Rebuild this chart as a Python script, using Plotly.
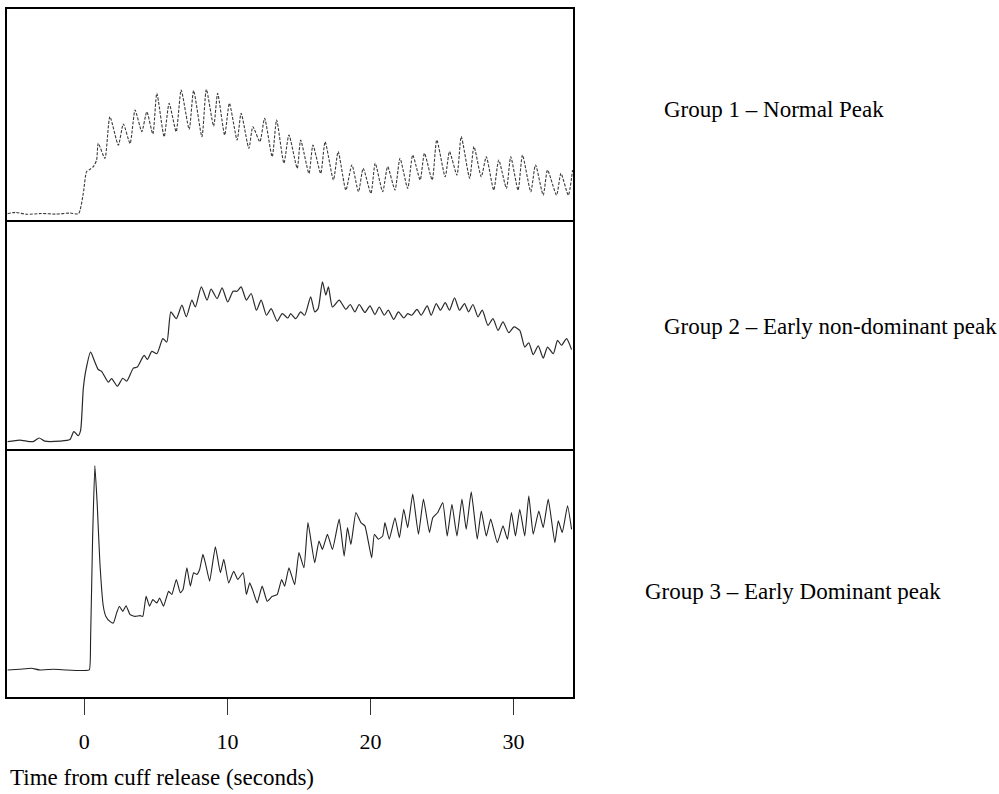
import plotly.graph_objects as go

# Time (s) and signal (arbitrary units, 0-100 of panel height)
g1_t = [-5.36, -4.8, -4.0, -3.0, -2.0, -1.0, -0.4, -0.07, 0.16, 0.39, 0.63, 0.86,
        0.98, 1.44, 1.79, 2.38, 2.73, 3.2, 3.55, 4.02, 4.37, 4.79,
        5.07, 5.58, 5.93, 6.42, 6.77, 7.33, 7.64, 8.22, 8.53, 9.04,
        9.32, 9.81, 10.14, 10.68, 10.96, 11.5, 11.78, 12.27, 12.6, 13.13,
        13.44, 13.95, 14.3, 14.88,
        15.12, 15.7, 15.98, 16.52, 16.83, 17.41, 17.74, 18.28, 18.7, 19.16,
        19.49, 20.03, 20.33, 20.85, 21.2, 21.71, 22.06, 22.6, 22.95, 23.47,
        23.77, 24.31, 24.63, 25.22, 25.52, 26.04, 26.34, 26.93, 27.23, 27.74,
        28.09, 28.61, 28.96, 29.5, 29.8, 30.31, 30.62, 31.2, 31.53, 32.07,
        32.37, 33.0, 33.31, 33.82, 34.12]
g1_v = [3.0, 3.6, 2.7, 3.1, 2.8, 3.3, 3.0, 12.6, 22.9, 24, 25.3, 28.4,
        36.3, 29.2, 49, 35.5, 45.5, 36.3, 52.1, 41.9, 51.3, 40.8,
        60, 39.5, 55.3, 41.9, 61.6, 43, 61.3, 39.5, 61.9, 44.5,
        60, 40.3, 55.3, 37.9, 50.6, 34, 44.2, 37.1, 48.2, 30,
        47.4, 26.9, 40.3, 24.5,
        37.9, 22.1, 35.5, 22.1, 37.1, 19, 32.4, 14.2, 26.1, 13.4,
        24.5, 12.6, 26.9, 13.4, 25.3, 14.2, 29.2, 15, 30.8, 19,
        31.6, 19, 37.9, 20.5, 32.4, 21.3, 39.5, 19.7, 34.8, 20.5,
        30, 14.2, 28.4, 15, 30, 14.2, 30.8, 13.4, 26.1, 11.8,
        23.7, 11.8, 22.1, 11.8, 23.7]

g2_t = [-5.36, -4.52, -3.58, -3.16, -2.76, -1.71, -1.01, -0.73, -0.43, -0.26,
        -0.07, 0.11, 0.44, 0.74, 0.98, 1.21, 1.68, 1.91, 2.31, 2.69,
        2.96, 3.43, 3.71, 4.18, 4.41, 4.72, 5.07, 5.49, 5.77, 6.05,
        6.43, 6.82, 7.13, 7.52, 7.76, 8.18, 8.58, 8.86, 9.28, 9.63,
        10.02, 10.4, 10.68, 10.96, 11.33, 11.66, 12.03, 12.36, 12.73, 13.06,
        13.48, 13.83, 14.23, 14.42, 14.77, 15.12, 15.4, 15.82, 16.1, 16.34,
        16.64, 16.88, 17.06, 17.34, 17.81, 18.28, 18.58, 18.91, 19.21, 19.61,
        19.96, 20.31, 20.61, 20.96, 21.24, 21.62, 21.95, 22.32, 22.6, 22.88,
        23.25, 23.54, 23.96, 24.24, 24.59, 24.89, 25.22, 25.52, 25.87, 26.22,
        26.57, 26.85, 27.16, 27.51, 27.81, 28.21, 28.56, 28.91, 29.26, 29.66,
        30.03, 30.43, 30.78, 31.06, 31.37, 31.72, 32.07, 32.37, 32.77, 33.07,
        33.35, 33.7, 34.05]
g2_v = [3.2, 3.9, 3.2, 4.8, 3.4, 3.4, 4.1, 7.6, 5.8, 8,
        26.3, 34.3, 42.3, 38, 34.7, 33.9, 29.2, 30.7, 27.4, 30.9,
        29.6, 35.3, 35.8, 40.9, 39.1, 42.6, 41.6, 48.2, 46.7, 59.9,
        56.9, 62.8, 57.7, 65, 62, 70.8, 65, 69.8, 65.7, 70.4,
        64.2, 68.9, 68.9, 70.8, 65, 67.9, 60.6, 65, 58.4, 61.3,
        55.8, 59.1, 57.2, 59.1, 56.9, 59.9, 58.4, 66.4, 59.9, 61.3,
        73, 67.2, 70.8, 62, 65, 61, 63.1, 59.9, 63.1, 59.6,
        62.5, 58.7, 62, 58.4, 60.6, 56.6, 59.9, 57.2, 59.1, 58.4,
        61, 58.4, 62.5, 58.4, 63.5, 60.6, 63.9, 60.6, 66, 60.6,
        63.5, 59.9, 63.1, 57.7, 60.6, 54, 56.9, 51.8, 55.5, 50.8,
        53.3, 51.8, 44.5, 46.4, 41.2, 45, 39.7, 44.5, 41.6, 47.4,
        45.3, 48.2, 43.4]

g3_t = [-5.36, -4.52, -3.7, -3.11, -2.18, -1.24, -0.19, 0.35, 0.44, 0.58,
        0.74, 0.91, 1.09, 1.33, 1.51, 1.79, 2.03, 2.26, 2.45, 2.69,
        2.92, 3.2, 3.55, 3.9, 4.09, 4.32, 4.56, 4.79, 5.07, 5.26,
        5.54, 5.89, 6.12, 6.43, 6.71, 6.9, 7.17, 7.41, 7.64, 7.87,
        8.06, 8.29, 8.46, 8.76, 9.16, 9.51, 9.75, 10.09, 10.44, 10.73,
        11.1, 11.33, 11.56, 11.8, 12.08, 12.43, 12.78, 13.13, 13.48, 13.79,
        14.0, 14.3, 14.7, 15.0, 15.35, 15.63, 16.1, 16.4, 16.64, 16.99,
        17.34, 17.81, 18.16, 18.39, 18.63, 18.98, 19.33, 19.61, 20.08, 20.27,
        20.55, 20.85, 21.01, 21.31, 21.71, 22.02, 22.32, 22.6, 22.95, 23.35,
        23.7, 24.12, 24.35, 24.7, 25.05, 25.36, 25.69, 26.04, 26.39, 26.69,
        27.04, 27.46, 27.74, 28.09, 28.4, 28.86, 29.26, 29.57, 29.85, 30.13,
        30.43, 30.78, 31.06, 31.37, 31.76, 32.07, 32.42, 32.88, 33.12, 33.4,
        33.77, 34.05]
g3_v = [10.9, 11.2, 11.6, 10.9, 11.2, 10.9, 10.7, 10.9, 23.1, 63.6,
        93.3, 77, 54.1, 36.6, 32.5, 30.5, 29.8, 33.9, 36.6, 34.5,
        36.8, 33.2, 32.5, 32.8, 32.5, 40.6, 36.6, 39.3, 37.9, 39.9,
        36.6, 42.6, 41.3, 47.4, 42, 43.3, 52.1, 44.7, 50.1, 49.4,
        51.4, 57.5, 54.1, 46.7, 60.6, 50.1, 55.5, 46, 50.7, 47.4,
        50.1, 41.3, 46, 42.6, 37.9, 44.7, 38.6, 40.6, 41.3, 47.4,
        44.7, 52.1, 45.3, 58.2, 52.1, 70.3, 54.1, 62.9, 59.5, 65.6,
        59.5, 71.7, 56.8, 68.3, 61.5, 74.4, 70.3, 69, 56.1, 65.6,
        63.6, 64.9, 70.3, 63.6, 72.3, 64.2, 75.7, 68.3, 81.8, 65.6,
        79.8, 66.3, 72.3, 74.4, 78.4, 64.9, 77.7, 64.9, 79.8, 67.6,
        82.7, 63.6, 75, 64.9, 71.7, 62.2, 69, 63.6, 74.4, 64.9,
        75.7, 64.9, 81.1, 65.6, 75, 68.3, 79.8, 62.2, 71, 66.3,
        77.1, 67.6]

group_labels = ["Group 1 \u2013 Normal Peak",
                "Group 2 \u2013 Early non-dominant peak",
                "Group 3 \u2013 Early Dominant peak"]
x_ticks = [0, 10, 20, 30]
x_title = "Time from cuff release (seconds)"

FONT = "Liberation Serif, Times New Roman, serif"

fig = go.Figure()
fig.add_trace(go.Scatter(x=g1_t, y=g1_v, mode="lines", xaxis="x", yaxis="y",
                         line=dict(color="#3a3a3a", width=1.1, dash="3px,1.5px",
                                   shape="spline", smoothing=0.6),
                         showlegend=False))
fig.add_trace(go.Scatter(x=g2_t, y=g2_v, mode="lines", xaxis="x2", yaxis="y2",
                         line=dict(color="#2a2a2a", width=1.2,
                                   shape="spline", smoothing=0.6),
                         showlegend=False))
fig.add_trace(go.Scatter(x=g3_t, y=g3_v, mode="lines", xaxis="x3", yaxis="y3",
                         line=dict(color="#222222", width=1.1,
                                   shape="spline", smoothing=0.4),
                         showlegend=False))

xr = [-5.4, 34.15]
base = dict(showline=True, linecolor="black", linewidth=1.5,
            showgrid=False, zeroline=False)
d3 = [0, 0.3605]
d2 = [0.3605, 0.6933]
d1 = [0.6933, 1.0]

fig.update_layout(
    width=999, height=794,
    margin=dict(l=7, r=426, t=9, b=97),
    paper_bgcolor="white", plot_bgcolor="white",
    font=dict(family=FONT, color="black"),
    xaxis=dict(range=xr, anchor="y", showticklabels=False, ticks="", mirror=True,
               **base),
    xaxis2=dict(range=xr, anchor="y2", matches="x", showticklabels=False, ticks="",
                mirror=False, **base),
    xaxis3=dict(range=xr, anchor="y3", matches="x", tickvals=x_ticks,
                ticks="outside", ticklen=16, tickwidth=1, tickcolor="#333333",
                ticklabelstandoff=8, mirror=False,
                tickfont=dict(family=FONT, size=22, color="black"), **base),
    yaxis=dict(domain=d1, range=[0, 100], anchor="x", showticklabels=False,
               ticks="", mirror=True, **base),
    yaxis2=dict(domain=d2, range=[0, 100], anchor="x2", showticklabels=False,
                ticks="", mirror=True, **base),
    yaxis3=dict(domain=d3, range=[0, 100], anchor="x3", showticklabels=False,
                ticks="", mirror=True, **base),
)

label_pos = [(1.157, 0.8545), (1.157, 0.539), (1.124, 0.154)]
for txt, (lx, ly) in zip(group_labels, label_pos):
    fig.add_annotation(text=txt, xref="paper", yref="paper", x=lx, y=ly,
                       xanchor="left", yanchor="middle", showarrow=False,
                       font=dict(family=FONT, size=23, color="black"))

fig.add_annotation(text=x_title, xref="paper", yref="paper", x=0.002, y=-0.1385,
                   xanchor="left", yanchor="bottom", showarrow=False,
                   font=dict(family=FONT, size=23, color="black"))

fig.write_html("out.html")
